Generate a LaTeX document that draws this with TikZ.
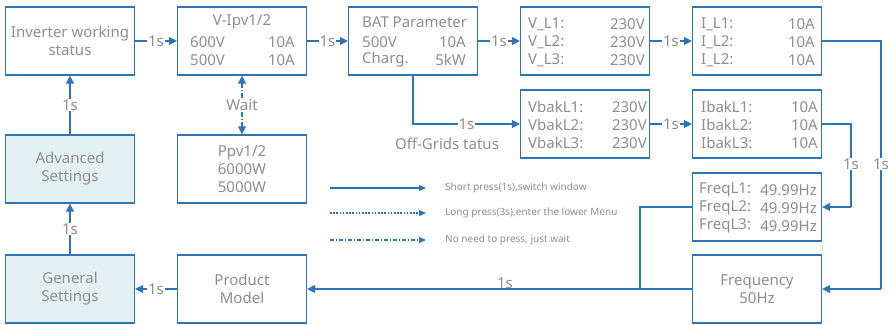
\documentclass[tikz,border=0pt]{standalone}
\usepackage{fontspec}
\setmainfont{Noto Sans}
\usetikzlibrary{arrows.meta,positioning}
\definecolor{lblue}{HTML}{2F75B5}
\definecolor{tgray}{HTML}{8E8E8E}
\definecolor{tealfill}{HTML}{E4F1F3}
\tikzset{
  box/.style={draw=lblue, line width=1.2pt, minimum width=129pt, minimum height=68pt, inner sep=0pt, text=tgray, font=\fontsize{15}{18}\selectfont, align=center},
  sbox/.style={box, fill=tealfill},
  txt/.style={text=tgray, font=\fontsize{15}{18}\selectfont, inner sep=0pt},
  lbl/.style={text=tgray, font=\fontsize{15}{18}\selectfont, fill=white, inner sep=1pt},
  leg/.style={text=tgray, font=\fontsize{10}{12}\selectfont, inner sep=0pt, anchor=west},
  conn/.style={draw=lblue, line width=1.2pt},
  arr/.style={conn, -{Triangle[length=8pt,width=8pt]}},
  legarr/.style={draw=lblue, line width=1.1pt, -{Triangle[length=7pt,width=6pt]}},
}
\begin{document}
\begin{tikzpicture}[x=1pt,y=-1pt]
\useasboundingbox (0,0) rectangle (896,324);
% top row
\node[box] (inv) at (70,41) {Inverter working\\status};
\node[box] (vipv) at (242,41) {};
\node[txt] at (242,22) {V-Ipv1/2};
\node[txt,anchor=west] at (190,42) {600V};
\node[txt,anchor=east] at (295,42) {10A};
\node[txt,anchor=west] at (190,60) {500V};
\node[txt,anchor=east] at (295,60) {10A};
\node[box] (bat) at (413,41) {};
\node[txt,anchor=west] at (362,22) {BAT Parameter};
\node[txt,anchor=west] at (362,42) {500V};
\node[txt,anchor=east] at (466,42) {10A};
\node[txt,anchor=west] at (362,60) {Charg.};
\node[txt,anchor=east] at (466,60) {5kW};
\node[box] (vl) at (585,41) {};
\foreach \i/\y in {1/24,2/42,3/60}{
  \node[txt,anchor=west] at (528,\y) {V\_L\i:};
  \node[txt,anchor=east] at (645,\y) {230V};
}
\node[box] (il) at (757,41) {};
\foreach \i/\y in {1/24,2/42,2/60}{
  \node[txt,anchor=west] at (701,\y) {I\_L\i:};
  \node[txt,anchor=east] at (815,\y) {10A};
}
% second row
\node[box] (vbak) at (585,124) {};
\foreach \i/\y in {1/107,2/125,3/143}{
  \node[txt,anchor=west] at (528,\y) {VbakL\i:};
  \node[txt,anchor=east] at (647,\y) {230V};
}
\node[box] (ibak) at (757,124) {};
\foreach \i/\y in {1/107,2/125,3/143}{
  \node[txt,anchor=west] at (701,\y) {IbakL\i:};
  \node[txt,anchor=east] at (818,\y) {10A};
}
\node[box] (ppv) at (242,169) {Ppv1/2\\6000W\\5000W};
\node[sbox] (adv) at (70,169) {Advanced\\Settings};
\node[box] (freql) at (757,207) {};
\foreach \i/\y in {1/190,2/208,3/226}{
  \node[txt,anchor=west] at (699,\y) {FreqL\i:};
  \node[txt,anchor=east] at (817,\y) {49.99Hz};
}
% bottom row
\node[sbox] (gen) at (70,289) {General\\Settings};
\node[box] (prod) at (242,289) {Product\\Model};
\node[box] (freq) at (757,289) {Frequency\\50Hz};
% connectors top row
\draw[arr] (inv.east) -- node[lbl]{1s} (vipv.west);
\draw[arr] (vipv.east) -- node[lbl]{1s} (bat.west);
\draw[arr] (bat.east) -- node[lbl]{1s} (vl.west);
\draw[arr] (vl.east) -- node[lbl]{1s} (il.west);
\draw[arr] (bat.south) |- node[lbl,pos=0.75]{1s} (vbak.west);
\node[txt] (off) at (447,144) {Off-Grids tatus};
\draw[arr] (vbak.east) -- node[lbl]{1s} (ibak.west);
% wait
\coordinate (wm) at (242,105);
\node[lbl] (wait) at (wm) {Wait};
\draw[arr, dash pattern=on 5pt off 2pt on 1.5pt off 2pt] (wait.north) -- (vipv.south);
\draw[arr, dash pattern=on 5pt off 2pt on 1.5pt off 2pt] (wait.south) -- (ppv.north);
% right side
\coordinate (r1) at (881,41);
\coordinate (r2) at (881,289);
\draw[conn] (il.east) -- (r1) -- (r2);
\draw[arr] (r2) -- (freq.east);
\node[lbl] at (881,164) {1s};
\coordinate (q1) at (851,124);
\coordinate (q2) at (851,207);
\draw[conn] (ibak.east) -- (q1) -- (q2);
\draw[arr] (q2) -- (freql.east);
\node[lbl] at (851,164) {1s};
% bottom
\coordinate (j1) at (640,207);
\coordinate (j2) at (640,289);
\draw[conn] (freql.west) -- (j1) -- (j2);
\draw[conn] (freq.west) -- (j2);
\draw[arr] (j2) -- (prod.east);
\node[txt] at (505,283) {1s};
\draw[arr] (prod.west) -- node[lbl]{1s} (gen.east);
\draw[arr] (gen.north) -- node[lbl]{1s} (adv.south);
\draw[arr] (adv.north) -- node[lbl]{1s} (inv.south);
% legend
\coordinate (l1a) at (330,188); \coordinate (l1b) at (426,188);
\coordinate (l2a) at (330,213); \coordinate (l2b) at (426,213);
\coordinate (l3a) at (330,240); \coordinate (l3b) at (426,240);
\draw[legarr] (l1a) -- (l1b);
\draw[legarr, dash pattern=on 1.6pt off 1.6pt] (l2a) -- (l2b);
\draw[legarr, dash pattern=on 4pt off 2pt on 1pt off 2pt] (l3a) -- (l3b);
\node[leg] (t1) at (445,188) {Short press(1s),switch window};
\node[leg] (t2) at (445,213) {Long press(3s),enter the lower Menu};
\node[leg] (t3) at (445,240) {No need to press, just wait};
\end{tikzpicture}
\end{document}
